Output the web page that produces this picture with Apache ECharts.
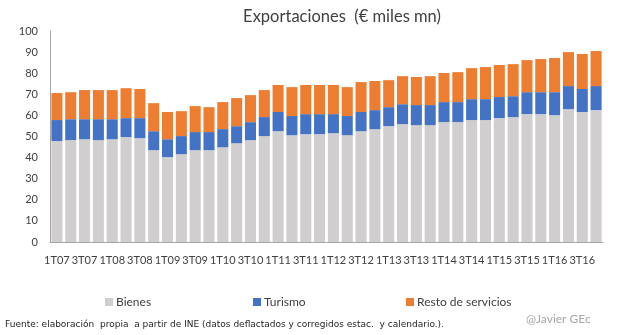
<!DOCTYPE html>
<html>
<head>
<meta charset="utf-8">
<script src="https://cdn.jsdelivr.net/npm/echarts@6/dist/echarts.min.js"></script>
<style>
  html, body { margin: 0; padding: 0; background: #fff; }
  #chart { width: 622px; height: 335px; }
</style>
</head>
<body>
<div id="chart"></div>
<script>
// Quarterly exports, in thousands of millions of euros
const categories = [
  '1T07','2T07','3T07','4T07','1T08','2T08','3T08','4T08',
  '1T09','2T09','3T09','4T09','1T10','2T10','3T10','4T10',
  '1T11','2T11','3T11','4T11','1T12','2T12','3T12','4T12',
  '1T13','2T13','3T13','4T13','1T14','2T14','3T14','4T14',
  '1T15','2T15','3T15','4T15','1T16','2T16','3T16','4T16'
];
const bienes = [
  47.8, 48.3, 48.7, 48.3, 48.7, 49.7, 49.2, 43.5,
  40.2, 41.6, 43.5, 43.5, 44.9, 46.8, 48.3, 50.2,
  52.5, 50.6, 51.1, 51.1, 51.6, 50.6, 52.5, 53.5,
  54.9, 55.9, 55.4, 55.4, 56.8, 56.8, 57.8, 57.8,
  58.7, 59.2, 60.6, 60.6, 60.1, 63.0, 61.6, 62.5
];
const turismo = [
  10.0, 9.9, 9.5, 9.9, 9.5, 9.0, 9.5, 9.0,
  8.5, 8.6, 8.6, 8.6, 8.6, 8.1, 8.5, 9.0,
  9.1, 9.1, 9.5, 9.5, 9.0, 9.1, 9.1, 9.0,
  9.0, 9.4, 9.5, 9.5, 9.5, 9.5, 9.9, 9.9,
  10.0, 9.9, 10.4, 10.4, 10.9, 10.9, 10.9, 11.4
];
const restoServicios = [
  12.8, 12.8, 13.8, 13.8, 13.8, 14.2, 13.8, 13.3,
  12.9, 11.8, 12.3, 11.8, 12.8, 13.3, 12.8, 12.8,
  12.8, 13.7, 13.8, 13.8, 13.8, 13.7, 14.2, 13.8,
  12.8, 13.3, 13.3, 13.7, 13.8, 14.2, 14.7, 15.2,
  15.2, 15.2, 15.2, 15.7, 16.2, 16.1, 16.6, 16.6
];
const seriesNames = ['Bienes', 'Turismo', 'Resto de servicios'];
const colors = ['#d0cece', '#4472c4', '#ed7d31'];

const FONT = 'Lato, "DejaVu Sans", sans-serif';

const chart = echarts.init(document.getElementById('chart'), null, { renderer: 'canvas' });

// one legend block per series, so each can sit at its own spot
const legendLefts = [100, 248, 401];

chart.setOption({
  animation: false,
  textStyle: { fontFamily: FONT },
  title: {
    text: 'Exportaciones  (€ miles mn)',
    left: 337,
    textAlign: 'center',
    top: 3,
    textStyle: { fontFamily: FONT, fontSize: 16.5, fontWeight: 'normal', color: '#404040' }
  },
  legend: seriesNames.map((n, i) => ({
    data: [n],
    left: legendLefts[i],
    top: 291,
    icon: 'rect',
    itemWidth: 8,
    itemHeight: 8,
    itemGap: 3,
    textStyle: { fontFamily: FONT, fontSize: 12, color: '#404040', padding: [0, 0, 0, -2] }
  })),
  grid: { left: 50, right: 19, top: 31, bottom: 93, containLabel: false },
  xAxis: {
    type: 'category',
    data: categories,
    axisLine: { lineStyle: { color: '#a6a6a6', width: 1 } },
    axisTick: { show: false },
    axisLabel: {
      interval: 1,
      color: '#404040',
      fontFamily: FONT,
      fontSize: 11,
      margin: 13
    }
  },
  yAxis: {
    type: 'value',
    min: 0,
    max: 100,
    interval: 10,
    axisLine: { show: true, lineStyle: { color: '#a6a6a6', width: 1 } },
    axisTick: { show: false },
    splitLine: { show: false },
    axisLabel: { color: '#404040', fontFamily: FONT, fontSize: 11, margin: 12 }
  },
  series: [bienes, turismo, restoServicios].map((d, i) => ({
    name: seriesNames[i],
    type: 'bar',
    stack: 'total',
    data: d,
    barCategoryGap: '20%',
    itemStyle: { color: colors[i] }
  })),
  graphic: [
    {
      type: 'text',
      left: 5,
      top: 320,
      style: {
        text: 'Fuente: elaboración  propia  a partir de INE (datos deflactados y corregidos estac.  y calendario.).',
        font: '9px "DejaVu Sans", sans-serif',
        fill: '#262626'
      }
    },
    {
      type: 'text',
      left: 526,
      top: 313,
      style: {
        text: '@Javier GEc',
        font: '12px ' + FONT,
        fill: '#a6a6a6'
      }
    }
  ]
});
</script>
</body>
</html>
